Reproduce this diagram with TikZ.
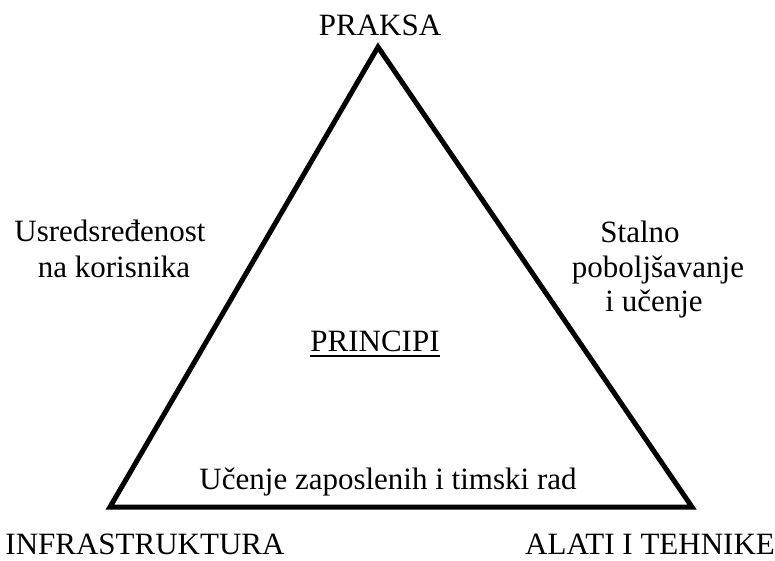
\documentclass[tikz,border=0pt]{standalone}
\usepackage{fontspec}
\setmainfont{Liberation Serif}
\begin{document}
\begin{tikzpicture}[x=1pt,y=-1pt,
  lbl/.style={inner sep=0pt,anchor=base,font=\fontsize{31}{36}\selectfont},
  edge/.style={line width=5pt,line join=miter,black}]
\useasboundingbox (0,0) rectangle (775,560);
% corners of the triangle
\coordinate (top) at (378,47);
\coordinate (bl) at (110,507);
\coordinate (br) at (692,507);
\draw[edge] (top) -- (bl) -- (br) -- cycle;
% corner labels
\node[lbl] (praksa) at (380,35) {PRAKSA};
\node[lbl] (infra) at (145,554) {INFRASTRUKTURA};
\node[lbl] (alati) at (650,554) {ALATI I TEHNIKE};
% side labels
\node[lbl] (usr1) at (110,241) {Usredsređenost};
\node[lbl] (usr2) at (114,277) {na korisnika};
\node[lbl] (stal1) at (640,242) {Stalno};
\node[lbl] (stal2) at (658,277) {poboljšavanje};
\node[lbl] (stal3) at (654,311) {i učenje};
\node[lbl] (ucenje) at (388,489) {Učenje zaposlenih i timski rad};
% centre label, underlined
\node[lbl] (princ) at (375,351) {PRINCIPI};
\draw[line width=2pt] ([yshift=-4.5pt]princ.base west) -- ([yshift=-4.5pt]princ.base east);
\end{tikzpicture}
\end{document}
